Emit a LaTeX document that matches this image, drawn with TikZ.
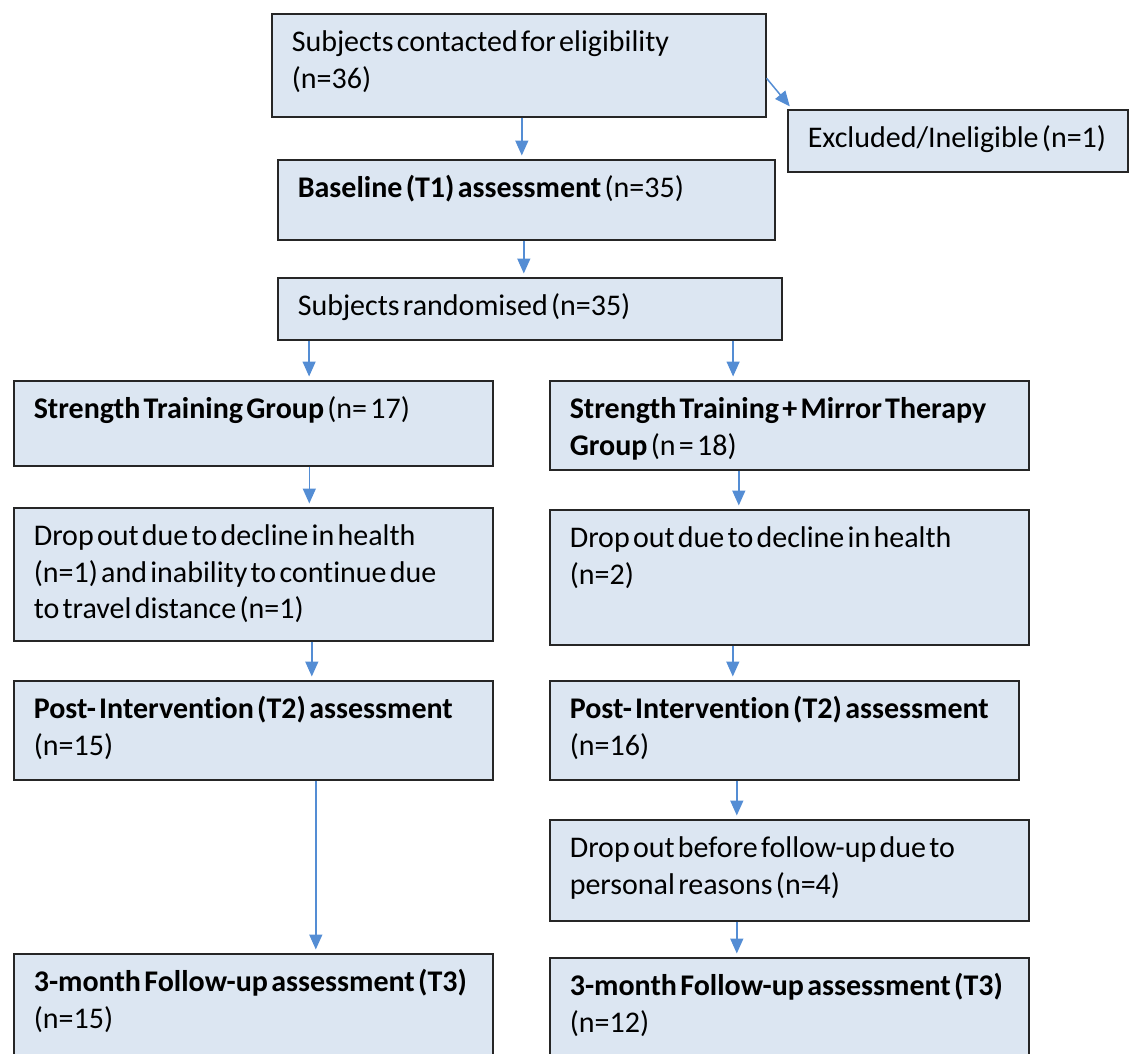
\documentclass[tikz,border=0pt]{standalone}
\usepackage{fontspec}
\setmainfont{Carlito}[Ligatures=NoCommon]
\usepackage{xcolor}
\definecolor{Col1}{RGB}{220,230,242}
\definecolor{Col2}{RGB}{84,141,212}
\definecolor{Col3}{RGB}{38,38,38}
\usepackage{tikz}
\usetikzlibrary{arrows.meta}
\newcommand{\BoxFont}{\fontsize{30}{36.5}\selectfont}
\newcommand{\TightSpace}{\spaceskip=.11em plus .05em\relax\hyphenpenalty=10000\relax}
\tikzstyle{Box}=[draw=Col3,fill=Col1,line width=1.6pt,anchor=north west,
align=flush left,inner xsep=20pt,inner ysep=0pt,text height=38pt,font=\BoxFont,
execute at begin node=\TightSpace]
\tikzstyle{Edge}=[draw=Col2,line width=1.5pt,-{Triangle[length=15pt,width=13pt]},
shorten >=3.5pt]

\begin{document}
\begin{tikzpicture}[x=1pt,y=-1pt]
        \useasboundingbox(0,0)rectangle(1129,1054);
        \node[Box,text width=454pt,text depth=65pt](Contact)at(271,13){Subjects contacted for eligibility\\(n=36)};
        \node[Box,text width=300pt,text depth=24pt](Excl)at(787,109){Excluded/Ineligible (n=1)};
        \node[Box,text width=457pt,text depth=42pt](Base)at(277,159){\textbf{Baseline (T1) assessment} (n=35)};
        \node[Box,text width=464pt,text depth=24pt](Rand)at(277,277){Subjects randomised (n=35)};
        \node[Box,text width=439pt,text depth=47pt](STL)at(13,380){\textbf{Strength Training Group} (n= 17)};
        \node[Box,text width=439pt,text depth=51pt](STR)at(549,380){\textbf{Strength Training + Mirror Therapy}\\\textbf{Group} (n = 18)};
        \node[Box,text width=439pt,text depth=95pt](DropL)at(13,507){Drop out due to decline in health\\(n=1) and inability to continue due\\to travel distance (n=1)};
        \node[Box,text width=439pt,text depth=97pt](DropR)at(549,509){Drop out due to decline in health\\(n=2)};
        \node[Box,text width=439pt,text depth=61pt](PostL)at(13,680){\textbf{Post- Intervention (T2) assessment}\\(n=15)};
        \node[Box,text width=429pt,text depth=61pt](PostR)at(549,680){\textbf{Post- Intervention (T2) assessment}\\(n=16)};
        \node[Box,text width=439pt,text depth=63pt](DropF)at(549,819){Drop out before follow-up due to\\personal reasons (n=4)};
        \node[Box,text width=439pt,text depth=110pt](FollowL)at(13,953){\textbf{3-month Follow-up assessment (T3)}\\(n=15)};
        \node[Box,text width=439pt,text depth=110pt](FollowR)at(549,957){\textbf{3-month Follow-up assessment (T3)}\\(n=12)};
        \draw[Edge]([yshift=-13pt]Contact.east)--([xshift=5pt]Excl.north west);
        \draw[Edge]([xshift=3pt]Contact.south)--([xshift=3pt]Contact.south|-Base.north);
        \draw[Edge]([xshift=-2.5pt]Base.south)--([xshift=-2.5pt]Base.south|-Rand.north);
        \draw[Edge]([xshift=-220.7pt]Rand.south)--([xshift=-220.7pt]Rand.south|-STL.north);
        \draw[Edge]([xshift=203.3pt]Rand.south)--([xshift=203.3pt]Rand.south|-STR.north);
        \draw[Edge]([xshift=56pt]STL.south)--([xshift=56pt]STL.south|-DropL.north);
        \draw[Edge]([xshift=-50.5pt]STR.south)--([xshift=-50.5pt]STR.south|-DropR.north);
        \draw[Edge]([xshift=58.5pt]DropL.south)--([xshift=58.5pt]DropL.south|-PostL.north);
        \draw[Edge]([xshift=-56.5pt]DropR.south)--([xshift=-56.5pt]DropR.south|-PostR.north);
        \draw[Edge]([xshift=62.5pt]PostL.south)--([xshift=62.5pt]PostL.south|-FollowL.north);
        \draw[Edge]([xshift=-47.5pt]PostR.south)--([xshift=-47.5pt]PostR.south|-DropF.north);
        \draw[Edge]([xshift=-52.5pt]DropF.south)--([xshift=-52.5pt]DropF.south|-FollowR.north);
    \end{tikzpicture}
\end{document}
